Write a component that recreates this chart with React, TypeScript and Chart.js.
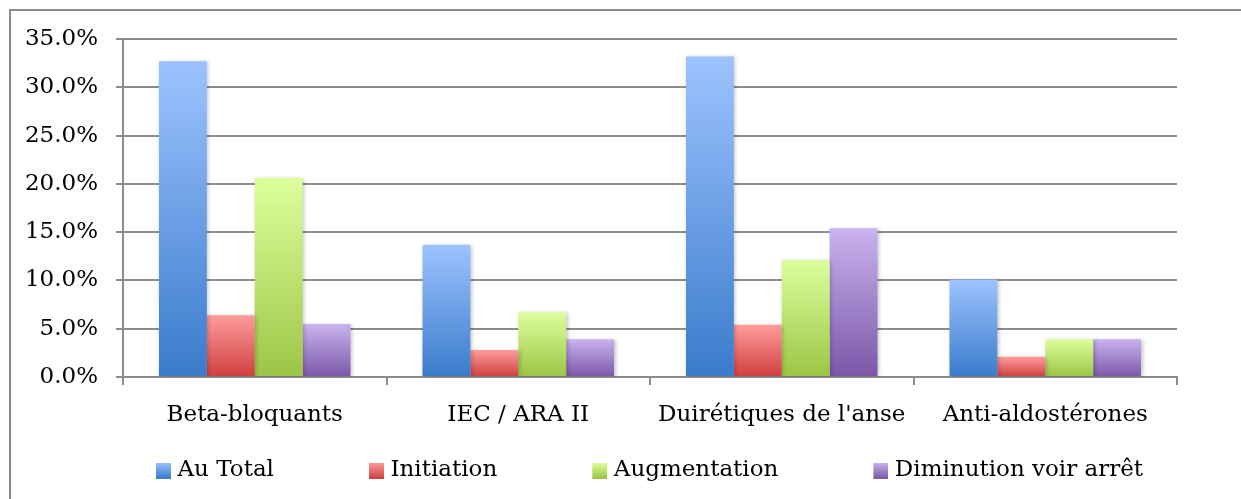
import React, { useEffect, useRef } from 'react';
import { Chart, registerables } from 'chart.js';

Chart.register(...registerables);

const categories = ['Beta-bloquants', 'IEC / ARA II', "Duirétiques de l'anse", 'Anti-aldostérones'];
const seriesNames = ['Au Total', 'Initiation', 'Augmentation', 'Diminution voir arrêt'];
const auTotal = [32.7, 13.7, 33.2, 10.1];
const initiation = [6.4, 2.8, 5.4, 2.1];
const augmentation = [20.6, 6.7, 12.1, 3.9];
const diminution = [5.5, 3.9, 15.4, 3.9];
const yTicks = [0, 5, 10, 15, 20, 25, 30, 35];

const gradients: [string, string][] = [
  ['#9DC3FF', '#3A7BCB'],
  ['#FF9C9C', '#CF3E3E'],
  ['#DCFF9C', '#9CC545'],
  ['#CAB3EF', '#7A57A7'],
];

const FONT = "'DejaVu Serif', 'Liberation Serif', serif";
const FONT_SIZE = 23;
const GRID = '#8c8c8c';
const LEGEND_PAD = 90;
const LEGEND_FIRST_X = 151;
const LEGEND_ITEM_TOP = 459;

const shadowPlugin = {
  id: 'barShadow',
  beforeDatasetsDraw(chart: any) {
    const c = chart.ctx;
    c.save();
    c.shadowColor = 'rgba(0,0,0,0.22)';
    c.shadowBlur = 4;
    c.shadowOffsetX = 1.5;
    c.shadowOffsetY = 1;
  },
  afterDatasetsDraw(chart: any) {
    chart.ctx.restore();
  },
};

const legendPlacePlugin = {
  id: 'legendPlace',
  afterLayout(chart: any) {
    const lg = chart.legend;
    if (!lg) return;
    lg.left = LEGEND_FIRST_X - LEGEND_PAD;
    lg.right = chart.width;
    lg.width = lg.right - lg.left;
    lg.top = LEGEND_ITEM_TOP - LEGEND_PAD;
    lg.bottom = chart.height;
    lg.height = lg.bottom - lg.top;
  },
};

function makeSwatch(light: string, dark: string): HTMLCanvasElement {
  // the box sits in the right part of the image so that it lies close to its text
  const cv = document.createElement('canvas');
  cv.width = 25;
  cv.height = 16;
  const c = cv.getContext('2d')!;
  const g = c.createLinearGradient(0, 0, 0, 16);
  g.addColorStop(0, light);
  g.addColorStop(1, dark);
  c.fillStyle = g;
  c.fillRect(10, 0, 15, 16);
  return cv;
}

export default function App() {
  const ref = useRef<HTMLCanvasElement | null>(null);

  useEffect(() => {
    if (!ref.current) return;
    const swatches = gradients.map(([l, d]) => makeSwatch(l, d));
    const seriesValues = [auTotal, initiation, augmentation, diminution];

    const datasets = seriesValues.map((values, i) => ({
      label: seriesNames[i],
      data: values,
      borderWidth: 0,
      categoryPercentage: 0.727,
      barPercentage: 1.0,
      backgroundColor: (ctx: any) => {
        const [light, dark] = gradients[i];
        const chart = ctx.chart;
        const y = chart.scales && chart.scales.y;
        if (ctx.type !== 'data' || !y) return dark;
        const top = y.getPixelForValue(ctx.raw);
        const bottom = y.getPixelForValue(0);
        if (!isFinite(top) || !isFinite(bottom) || top === bottom) return dark;
        const g = chart.ctx.createLinearGradient(0, top, 0, bottom);
        g.addColorStop(0, light);
        g.addColorStop(1, dark);
        return g;
      },
    }));

    const chart = new Chart(ref.current, {
      type: 'bar',
      data: { labels: categories, datasets },
      plugins: [shadowPlugin, legendPlacePlugin],
      options: {
        animation: false,
        responsive: false,
        maintainAspectRatio: false,
        layout: { padding: { left: 0, right: 64, top: 39, bottom: 22 } },
        plugins: {
          tooltip: { enabled: false },
          legend: {
            display: true,
            position: 'bottom',
            align: 'start',
            maxHeight: 40,
            labels: {
              usePointStyle: true,
              boxWidth: 15,
              boxHeight: 16,
              padding: LEGEND_PAD,
              color: '#000',
              font: { family: FONT, size: FONT_SIZE },
              generateLabels: (ch: any) => {
                const items = Chart.defaults.plugins.legend.labels.generateLabels(ch);
                return items.map((it: any, i: number) => ({
                  ...it,
                  pointStyle: swatches[i],
                  fillStyle: gradients[i][1],
                  strokeStyle: 'transparent',
                  lineWidth: 0,
                }));
              },
            },
          },
        },
        scales: {
          x: {
            afterFit: (scale: any) => {
              scale.height = 60;
            },
            grid: {
              display: true,
              drawOnChartArea: false,
              drawTicks: true,
              tickLength: 8,
              color: GRID,
              lineWidth: 2,
              offset: true,
            },
            border: { display: true, color: GRID, width: 2 },
            ticks: {
              color: '#000',
              font: { family: FONT, size: FONT_SIZE },
              padding: 16,
              maxRotation: 0,
              autoSkip: false,
            },
          },
          y: {
            min: 0,
            max: 35,
            afterFit: (scale: any) => {
              scale.width = 123;
            },
            afterBuildTicks: (scale: any) => {
              scale.ticks = yTicks.map((v) => ({ value: v }));
            },
            grid: {
              color: GRID,
              lineWidth: 2,
              drawTicks: true,
              tickLength: 7,
            },
            border: { display: true, color: GRID, width: 2 },
            ticks: {
              color: '#000',
              font: { family: FONT, size: FONT_SIZE },
              padding: 18,
              callback: (v: any) => Number(v).toFixed(1) + '%',
            },
          },
        },
      },
    } as any);

    return () => chart.destroy();
  }, []);

  return (
    <div
      style={{
        position: 'fixed',
        left: 0,
        top: 0,
        width: 1241,
        height: 499,
        overflow: 'hidden',
        background: '#fff',
      }}
    >
      <div
        style={{
          position: 'absolute',
          left: 9,
          top: 9,
          width: 1400,
          height: 700,
          border: '2px solid #8c8c8c',
        }}
      />
      <canvas
        ref={ref}
        width={1241}
        height={499}
        style={{ position: 'absolute', left: 0, top: 0, width: 1241, height: 499 }}
      />
    </div>
  );
}
